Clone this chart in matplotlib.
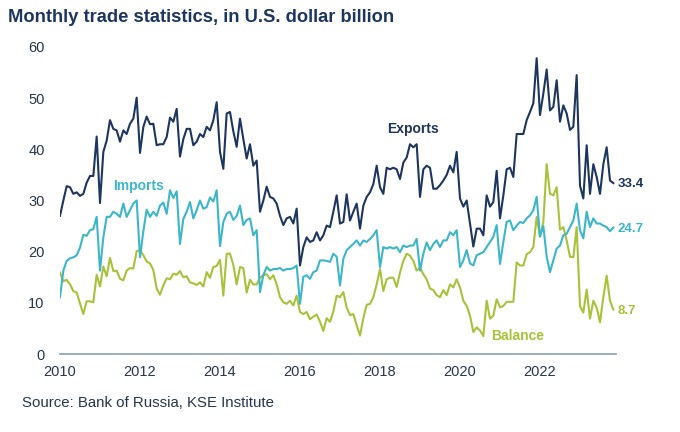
import numpy as np
import matplotlib
matplotlib.use("Agg")
import matplotlib.pyplot as plt

plt.rcParams['font.family'] = ['Liberation Sans', 'DejaVu Sans']

# monthly values, Jan 2010 - Nov 2023, USD bn
exports = [
    27.0, 30.0, 32.8, 32.6, 31.3, 31.6, 30.9, 31.3, 33.5, 34.8, 34.8, 42.5,
    29.5, 39.5, 41.7, 45.7, 44.0, 43.7, 41.5, 43.7, 43.0, 45.0, 46.0, 50.1,
    39.3, 44.4, 46.4, 44.9, 45.0, 40.8, 41.0, 41.0, 42.4, 46.2, 45.4, 47.9,
    38.6, 42.0, 44.0, 44.0, 40.8, 41.5, 43.0, 42.4, 44.4, 43.7, 45.7, 49.2,
    39.5, 36.2, 47.0, 47.3, 43.5, 40.5, 46.0, 42.0, 38.2, 41.0, 36.8, 37.8,
    27.8, 30.0, 32.7, 30.7, 30.4, 29.4, 27.0, 25.2, 26.5, 26.8, 25.5, 28.4,
    17.3, 20.9, 22.8, 21.9, 22.2, 23.8, 22.2, 23.2, 25.1, 24.8, 27.8, 31.0,
    25.5, 25.8, 31.2, 26.1, 27.8, 29.4, 24.5, 29.0, 30.7, 31.6, 33.2, 36.8,
    32.6, 31.3, 36.4, 36.1, 36.4, 36.1, 34.2, 37.4, 38.4, 41.0, 40.4, 41.0,
    30.7, 36.1, 36.8, 36.4, 32.3, 32.3, 33.0, 33.9, 35.0, 36.8, 35.5, 39.5,
    30.4, 28.8, 30.0, 25.5, 21.0, 24.5, 24.5, 23.2, 31.0, 28.8, 29.7, 35.8,
    26.5, 31.0, 36.1, 36.4, 34.6, 43.0, 43.0, 43.0, 45.7, 47.3, 49.0, 57.8,
    46.7, 50.9, 55.6, 47.6, 48.3, 53.5, 45.4, 48.6, 47.0, 43.8, 44.4, 54.5,
    32.9, 30.4, 40.8, 31.3, 37.1, 34.6, 31.3, 37.1, 40.4, 33.9, 33.4,
]

imports = [
    11.1, 16.3, 18.2, 18.7, 18.9, 19.3, 20.8, 23.3, 23.1, 24.2, 24.4, 26.8,
    16.3, 22.8, 26.8, 26.8, 27.8, 27.4, 26.8, 29.4, 26.8, 28.1, 29.4, 30.0,
    18.9, 24.0, 28.2, 26.8, 27.8, 27.0, 29.0, 29.6, 27.4, 32.0, 30.5, 31.8,
    21.5, 26.4, 27.8, 29.7, 26.5, 28.1, 30.0, 28.4, 28.7, 30.6, 29.8, 32.0,
    21.1, 25.8, 27.4, 27.8, 26.2, 27.0, 29.0, 25.2, 26.2, 26.5, 23.2, 24.2,
    12.1, 15.4, 17.0, 16.3, 16.6, 16.6, 16.8, 16.3, 16.6, 16.6, 16.8, 17.3,
    9.8, 15.1, 15.4, 14.7, 16.0, 16.3, 18.3, 18.3, 18.2, 18.0, 19.6, 19.0,
    13.4, 18.6, 20.3, 20.9, 21.5, 22.2, 21.2, 22.2, 21.9, 22.5, 23.2, 24.2,
    17.0, 20.9, 20.6, 20.9, 20.6, 20.9, 19.9, 21.2, 20.9, 21.2, 21.2, 22.5,
    16.3, 19.6, 21.8, 20.3, 21.5, 22.2, 20.9, 22.2, 22.2, 23.8, 23.2, 24.2,
    17.0, 18.3, 20.3, 17.7, 17.3, 19.3, 19.6, 19.9, 20.9, 21.9, 22.9, 25.2,
    17.6, 21.9, 25.8, 26.1, 24.2, 25.1, 25.8, 25.6, 26.5, 27.1, 28.1, 30.7,
    23.0, 25.0, 19.0, 16.0, 18.3, 20.6, 21.2, 23.2, 23.5, 24.8, 26.1, 29.4,
    24.2, 22.6, 27.8, 24.8, 26.5, 25.5, 25.5, 25.1, 24.8, 24.0, 24.7,
]

balance = [
    15.9, 14.2, 14.5, 13.6, 12.3, 12.0, 9.9, 7.8, 10.3, 10.3, 10.1, 15.5,
    13.2, 17.1, 15.2, 18.8, 16.2, 16.3, 14.7, 14.4, 16.3, 16.8, 16.7, 20.1,
    20.3, 19.3, 18.1, 17.7, 16.4, 12.8, 11.6, 13.4, 14.8, 14.6, 15.7, 15.5,
    16.2, 15.0, 15.2, 14.0, 13.8, 13.5, 14.0, 13.2, 16.0, 14.9, 17.0, 17.2,
    18.4, 11.4, 19.6, 19.6, 17.4, 13.6, 17.0, 16.8, 12.0, 14.5, 13.6, 13.6,
    14.9, 15.4, 15.6, 14.6, 15.4, 13.6, 11.1, 10.1, 9.8, 10.4, 9.5, 11.4,
    8.2, 7.8, 8.2, 6.8, 7.3, 7.7, 6.3, 4.5, 7.0, 6.3, 8.3, 11.4,
    11.1, 12.1, 9.1, 7.6, 7.8, 5.6, 3.6, 7.0, 9.6, 9.8, 11.1, 13.6,
    16.6, 12.3, 14.6, 14.9, 14.9, 13.1, 15.9, 18.2, 19.6, 19.2, 18.2, 16.3,
    16.9, 15.6, 14.6, 12.8, 12.5, 11.5, 11.1, 12.5, 11.5, 13.6, 13.0, 14.6,
    13.0, 10.4, 9.4, 7.5, 4.3, 5.2, 4.6, 3.5, 10.4, 6.9, 7.5, 10.7,
    9.1, 9.4, 10.2, 10.2, 10.2, 17.9, 17.3, 17.3, 19.5, 19.9, 20.9, 26.8,
    22.9, 25.8, 37.1, 31.3, 31.0, 32.6, 24.3, 24.8, 22.2, 19.0, 18.9, 24.8,
    9.4, 8.1, 12.6, 6.9, 10.4, 9.1, 6.2, 11.1, 15.3, 10.4, 8.7,
]

year_ticks = [2010, 2012, 2014, 2016, 2018, 2020, 2022]
y_ticks = [0, 10, 20, 30, 40, 50, 60]

navy = '#1c3660'
teal = '#3db6ca'
green = '#a8c23a'
text_col = '#25374f'

months = 2010 + np.arange(len(exports)) / 12

fig = plt.figure(figsize=(6.8, 4.32), dpi=100)
ax = fig.add_axes([60 / 680, 1 - 354 / 432, 556 / 680, 307 / 432])

ax.plot(months, balance, color=green, lw=1.5)
ax.plot(months, imports, color=teal, lw=1.5)
ax.plot(months, exports, color=navy, lw=1.5)

ax.set_xlim(2010, 2010 + 556 / 40)
ax.set_ylim(0, 60)
ax.set_xticks(year_ticks)
ax.set_yticks(y_ticks)
ax.tick_params(axis='both', length=0, labelsize=10.5, labelcolor=text_col)
ax.tick_params(axis='y', pad=11)
ax.tick_params(axis='x', pad=8)

for s in ['top', 'right', 'left']:
    ax.spines[s].set_visible(False)
ax.spines['bottom'].set_color('#8a9fbb')
ax.spines['bottom'].set_linewidth(1.2)

# series names
ax.text(2018.83, 43.9, 'Exports', color=navy, fontsize=10, fontweight='bold',
        ha='center', va='center')
ax.text(2011.97, 32.8, 'Imports', color=teal, fontsize=10, fontweight='bold',
        ha='center', va='center')
ax.text(2021.43, 3.6, 'Balance', color=green, fontsize=10, fontweight='bold',
        ha='center', va='center')

# last values
for vals, col in [(exports, navy), (imports, teal), (balance, green)]:
    ax.annotate(f'{vals[-1]:.1f}', (months[-1], vals[-1]), xytext=(3, -1),
                textcoords='offset points', color=col, fontsize=9.5,
                fontweight='bold', va='center', ha='left', annotation_clip=False)

fig.text(8 / 680, 1 - 18 / 432, 'Monthly trade statistics, in U.S. dollar billion',
         fontsize=13.2, fontweight='bold', color='#1c3660', va='center', ha='left')
fig.text(22 / 680, 1 - 403 / 432, 'Source: Bank of Russia, KSE Institute',
         fontsize=10.8, color=text_col, va='center', ha='left')

fig.savefig('out.png', dpi=100)
